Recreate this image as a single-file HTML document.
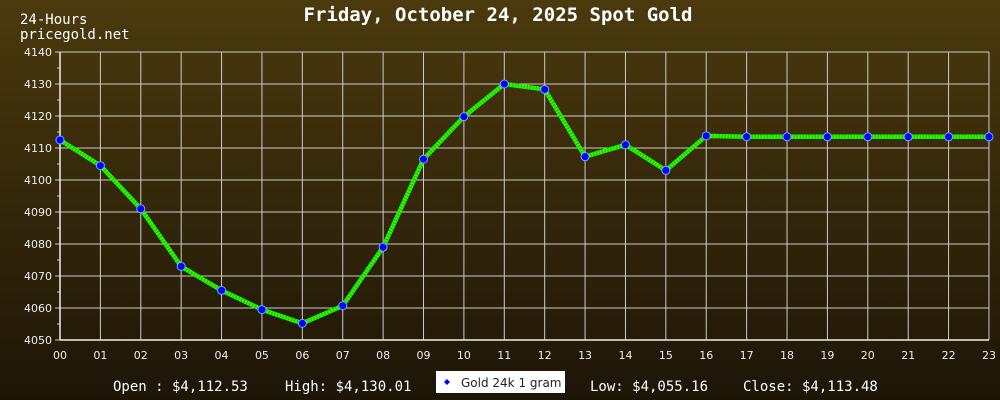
<!DOCTYPE html>
<html><head><style>
html,body{margin:0;padding:0;width:1000px;height:400px;overflow:hidden}
body{background:linear-gradient(#4b3a0d,#1d1507);font-family:"DejaVu Sans Mono","Liberation Mono",monospace}
</style></head><body>
<svg id="s" width="1000" height="400" xmlns="http://www.w3.org/2000/svg" style="position:absolute;left:0;top:0">
<text x="498" y="21" fill="#fff" font-family="DejaVu Sans Mono,Liberation Mono,monospace" font-weight="bold" font-size="19" text-anchor="middle">Friday, October 24, 2025 Spot Gold</text>
<text x="20" y="24" fill="#fff" font-size="14">24-Hours</text>
<text x="20" y="39" fill="#fff" font-size="14">pricegold.net</text>
<g id="g"></g>
<text x="113" y="391" fill="#fff" font-size="14">Open : $4,112.53</text>
<text x="285" y="391" fill="#fff" font-size="14">High: $4,130.01</text>
<rect x="436" y="371" width="129" height="22" fill="#fff"/>
<path d="M447 379 L450 382 L447 385 L444 382Z" fill="#00f"/>
<text x="461" y="387" fill="#222" font-family="DejaVu Sans,Liberation Sans,sans-serif" font-size="12">Gold 24k 1 gram</text>
<text x="590" y="391" fill="#fff" font-size="14">Low: $4,055.16</text>
<text x="743" y="391" fill="#fff" font-size="14">Close: $4,113.48</text>
</svg>
<script>
var g=document.getElementById('g'),h='';
function X(i){return 60+i*40.39}
function Y(v){return 52+(4140-v)*3.2}
for(var i=0;i<24;i++){var x=X(i);h+='<line x1="'+x+'" y1="52" x2="'+x+'" y2="340" stroke="#ccc" stroke-width="1"/>';
h+='<text x="'+x+'" y="359" fill="#eee" font-family="DejaVu Sans,sans-serif" font-size="11" text-anchor="middle">'+(i<10?'0':'')+i+'</text>';}
for(var v=4050;v<=4140;v+=10){var y=Y(v);h+='<line x1="55" y1="'+y+'" x2="989" y2="'+y+'" stroke="#ccc" stroke-width="1"/>';
h+='<text x="52" y="'+(y+4)+'" fill="#eee" font-family="DejaVu Sans,sans-serif" font-size="11" text-anchor="end">'+v+'</text>';
if(v<4140)h+='<line x1="57" y1="'+(y-16)+'" x2="60" y2="'+(y-16)+'" stroke="#ccc"/>';}
h+='<line x1="60" y1="52" x2="60" y2="340" stroke="#eee" stroke-width="1.5"/><line x1="60" y1="340" x2="989" y2="340" stroke="#eee" stroke-width="1.5"/>';
var d=[4112.5,4104.5,4091,4073,4065.5,4059.5,4055.2,4060.7,4079,4106.5,4119.8,4130,4128.3,4107.3,4111,4103,4113.8,4113.5,4113.5,4113.5,4113.5,4113.5,4113.5,4113.5];
var p=d.map(function(v,i){return X(i)+','+Y(v)}).join(' ');
h+='<polyline points="'+p+'" fill="none" stroke="#22ff00" stroke-width="4.5"/>';
h+='<polyline points="'+p+'" fill="none" stroke="#1a7a00" stroke-width="4" stroke-dasharray="1 2" opacity="0.5"/>';
d.forEach(function(v,i){h+='<circle cx="'+X(i)+'" cy="'+Y(v)+'" r="4" fill="#00f" stroke="#6af" stroke-width="1"/>'});
g.innerHTML=h;
</script>
</body></html>
